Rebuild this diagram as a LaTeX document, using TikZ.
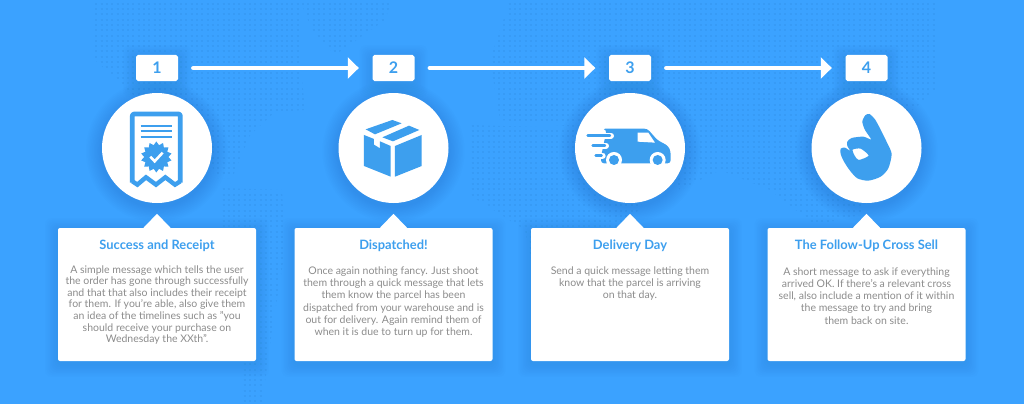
\documentclass[tikz,border=0pt]{standalone}
\usepackage{fontspec}
\setmainfont{Lato}
\usetikzlibrary{arrows.meta,shapes.geometric}
\definecolor{bgblue}{HTML}{3BA2FF}
\definecolor{dotblue}{HTML}{2A7FD6}
\definecolor{shadeblue}{HTML}{1C66B5}
\definecolor{inkblue}{HTML}{3D9FEE}
\definecolor{bodygrey}{HTML}{8C8C8C}
\tikzset{
  numbox/.style={fill=white,rounded corners=1.8pt,minimum width=42pt,minimum height=26pt,inner sep=0pt,
    text=inkblue,font=\fontsize{16}{18}\selectfont\bfseries},
  disc/.style={circle,fill=white,minimum size=110pt,inner sep=0pt},
  card/.style={fill=white,rounded corners=2pt,minimum width=198pt,minimum height=133pt,inner sep=0pt},
  cardtitle/.style={text=inkblue,font=\fontsize{12.9}{15}\selectfont\bfseries,inner sep=0pt},
  cardbody/.style={text=bodygrey,align=center,inner sep=0pt,font=\fontsize{10.5}{#1}\selectfont},
  flow/.style={white,line width=4.2pt,line cap=round,-{Triangle[width=21pt,length=11pt]}},
  ink/.style={fill=inkblue,draw=none},
  iconorigin/.style={x=0.3333pt,y=-0.3333pt},
}
\newcommand\discshade[3]{\foreach \k in {1,...,10}{\fill[shadeblue,opacity=.022] (#1,#2+3) circle ({(#3+(11-\k)*1.6)*1pt});}}
\newcommand\rectshade[4]{\foreach \k in {1,...,8}{\fill[shadeblue,opacity=.02,rounded corners=6pt] ({#1-(9-\k)*1.6},{#2+3-(9-\k)*1.6}) rectangle ({#3+(9-\k)*1.6},{#4+3+(9-\k)*1.6});}}
\newcommand\stepcolumn[2]{%
  \discshade{#1}{148}{55}
  \rectshade{#1-21}{55}{#1+21}{81}
  \rectshade{#1-99}{228}{#1+99}{361}
  \node[numbox] (num#2) at (#1,68) {#2};
  \node[disc] (disc#2) at (#1,148) {};
  \node[card] (card#2) at (#1,294.5) {};
  \fill[white] (card#2.north -| disc#2.south) ++(-14.5,1) -- ++(14.5,-15) -- ++(14.5,15) -- cycle;
}
\begin{document}
\begin{tikzpicture}[x=1pt,y=-1pt]
\useasboundingbox (0,0) rectangle (1024,404);
\fill[bgblue] (0,0) rectangle (1024,404);
% dotted world map
\begin{scope}
\clip (95,0) -- (300,0) -- (300,60) -- (305,110) -- (275,112) -- (250,135) -- (232,178) -- (215,178) -- (205,130) -- (150,110) -- (95,60) -- cycle
      (300,0) -- (392,0) -- (385,20) -- (335,55) -- (312,30) -- cycle
      (222,188) -- (282,190) -- (285,250) -- (272,330) -- (262,404) -- (240,404) -- (245,330) -- (222,250) -- cycle
      (510,0) -- (935,0) -- (935,90) -- (890,130) -- (860,215) -- (815,225) -- (770,190) -- (720,170) -- (680,190) -- (640,130) -- (610,130) -- (500,120) -- (490,60) -- cycle
      (470,125) -- (640,130) -- (650,190) -- (620,240) -- (600,320) -- (545,325) -- (525,230) -- (470,195) -- cycle
      (790,240) -- (905,235) -- (910,325) -- (860,335) -- (790,300) -- cycle;
\foreach \r in {1,...,76}{
  \draw[dotblue,opacity=.2,line width=2pt,dash pattern=on 2pt off 3.3pt] (90,\r*5.3-1.5) -- (940,\r*5.3-1.5);
}
\end{scope}
\stepcolumn{157}{1}
\stepcolumn{393.5}{2}
\stepcolumn{630}{3}
\stepcolumn{866.5}{4}
% connectors
\draw[flow] ([xshift=15pt]num1.east) -- ([xshift=-13.5pt]num2.west);
\draw[flow] ([xshift=15pt]num2.east) -- ([xshift=-13.5pt]num3.west);
\draw[flow] ([xshift=15pt]num3.east) -- ([xshift=-13.5pt]num4.west);
% card 1
\node[cardtitle] (title1) at (157,245.5) {Success and Receipt};
\node[cardbody=11.6pt] (body1) at (157,304.9) {A simple message which tells the user\\the order has gone through successfully\\and that that also includes their receipt\\for them. If you're able, also give them\\an idea of the timelines such as "you\\should receive your purchase on\\Wednesday the XXth".};
% card 2
\node[cardtitle] (title2) at (393.5,245.5) {Dispatched!};
\node[cardbody=12.25pt] (body2) at (393.5,302) {Once again nothing fancy. Just shoot\\them through a quick message that lets\\them know the parcel has been\\dispatched from your warehouse and is\\out for delivery. Again remind them of\\when it is due to turn up for them.};
% card 3
\node[cardtitle] (title3) at (630,245.5) {Delivery Day};
\node[cardbody=12.25pt] (body3) at (630,283.7) {Send a quick message letting them\\know that the parcel is arriving\\on that day.};
% card 4
\node[cardtitle] (title4) at (866.5,245.5) {The Follow-Up Cross Sell};
\node[cardbody=12.25pt] (body4) at (866.5,295.8) {A short message to ask if everything\\arrived OK. If there's a relevant cross\\sell, also include a mention of it within\\the message to try and bring\\them back on site.};
% receipt icon
\begin{scope}[shift={(60,40)},iconorigin]
\draw[inkblue,line width=4.8pt,line join=round,fill=white,rounded corners=2pt]
  (217,428) -- (217,222) -- (361,222) -- (361,428);
\draw[inkblue,line width=4.4pt,line join=miter]
  (217,424) -- (232,434) -- (258,412) -- (288,434) -- (316,412) -- (345,434) -- (361,424);
\foreach \ly in {258,274,291}{\draw[inkblue,line width=2pt] (242,\ly) -- (337,\ly);}
\node[star,star points=14,star point ratio=1.28,ink,minimum size=31pt,inner sep=0pt] (badge) at (289,351) {};
\draw[white,line width=2.6pt] (271,350) -- (284,364) -- (308,338);
\end{scope}
% parcel icon
\begin{scope}[shift={(300,40)},iconorigin]
\fill[ink] (192,285) -- (222,297) -- (222,314) -- (240,325) -- (240,304) -- (272,318) -- (272,410) -- (192,378) -- cycle;
\fill[ink] (285,318) -- (365,285) -- (365,378) -- (285,410) -- cycle;
\fill[ink] (197,268) -- (277,240) -- (305,250) -- (225,283) -- cycle;
\fill[ink] (247,292) -- (327,257) -- (358,270) -- (279,304) -- cycle;
\end{scope}
% van icon
\begin{scope}[shift={(540,40)},iconorigin]
\fill[ink,rounded corners=3pt] (188,266) -- (322,266) -- (352,300) -- (385,318) -- (392,335) -- (392,370) -- (183,370) -- (183,350) -- (200,270) -- cycle;
\foreach \xa/\xb/\ly in {143/210/287,158/195/317,167/185/347}{
  \draw[white,line width=6pt,line cap=round] (\xa-25,\ly) -- (\xb+3,\ly);
  \draw[inkblue,line width=2.4pt,line cap=round] (\xa,\ly) -- (\xb,\ly);
}
\fill[white] (293,278) -- (325,278) -- (345,308) -- (293,305) -- cycle;
\foreach \wx in {222,353}{
  \fill[white] (\wx,360) circle (8pt);
  \fill[inkblue] (\wx,360) circle (5pt);
}
\end{scope}
% hand icon
\begin{scope}[shift={(770,40)},iconorigin]
\fill[ink,even odd rule] plot[smooth cycle,tension=.45] coordinates {(298,222) (315,238) (335,275) (352,310) (365,342) (355,385) (332,410) (295,422) (262,415) (240,392) (222,365) (212,342) (212,326) (225,323) (240,332) (232,318) (232,305) (245,294) (280,290) (303,298) (285,270) (277,245) (286,226)}
 plot[smooth cycle,tension=.4] coordinates {(248,329) (272,326) (296,347) (266,360) (254,347)};
\end{scope}
\end{tikzpicture}
\end{document}
